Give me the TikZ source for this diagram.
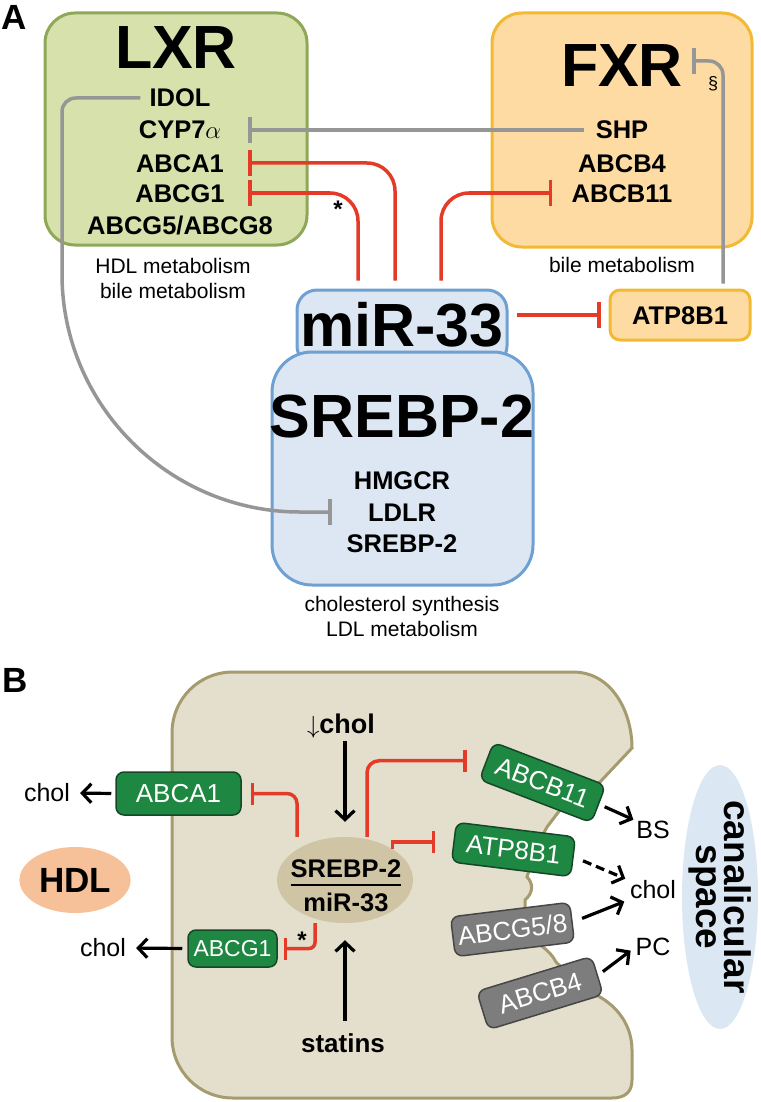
\documentclass[tikz,border=0pt]{standalone}
\usepackage{fontspec}
\setmainfont{Liberation Sans}
\usetikzlibrary{arrows.meta,shapes.geometric}

\definecolor{lxrfill}{RGB}{214,225,172}
\definecolor{lxrline}{RGB}{143,168,87}
\definecolor{fxrfill}{RGB}{253,219,162}
\definecolor{fxrline}{RGB}{242,186,52}
\definecolor{srebpfill}{RGB}{221,231,243}
\definecolor{srebpline}{RGB}{110,160,210}
\definecolor{cellfill}{RGB}{227,223,204}
\definecolor{cellline}{RGB}{165,155,110}
\definecolor{nucfill}{RGB}{207,197,165}
\definecolor{tgreen}{RGB}{30,135,65}
\definecolor{tgreenline}{RGB}{22,72,40}
\definecolor{tgrey}{RGB}{125,125,125}
\definecolor{tgreyline}{RGB}{70,70,70}
\definecolor{hdlfill}{RGB}{246,192,152}
\definecolor{canfill}{RGB}{219,232,243}
\definecolor{inhred}{RGB}{228,58,40}
\definecolor{inhgrey}{RGB}{150,150,150}

\begin{document}
\begin{tikzpicture}[x=1pt, y=-1pt,
    panel/.style={font=\fontsize{35}{36}\selectfont\bfseries, inner sep=0pt},
    title/.style={font=\fontsize{61}{62}\selectfont\bfseries, inner sep=0pt},
    gene/.style={font=\fontsize{25.5}{28}\selectfont\bfseries, inner sep=0pt, text height=18pt, text depth=0pt},
    note/.style={font=\fontsize{21}{25}\selectfont, align=center, inner sep=0pt},
    btext/.style={font=\fontsize{25}{28}\selectfont, inner sep=0pt},
    abox/.style={line width=3pt, rounded corners=30pt},
    tbox/.style={rounded corners=8pt, minimum width=120pt, minimum height=40pt, inner sep=3pt,
                 text=white, font=\fontsize{26}{28}\selectfont, line width=1.5pt},
    greenbox/.style={tbox, fill=tgreen, draw=tgreenline},
    greybox/.style={tbox, fill=tgrey, draw=tgreyline},
    redinh/.style={draw=inhred, line width=3.5pt, -{Bar[width=26pt]}},
    redinhB/.style={draw=inhred, line width=3.5pt, -{Bar[width=22pt]}},
    grayinh/.style={draw=inhgrey, line width=3.5pt, -{Bar[width=26pt]}},
    blk/.style={line width=3.2pt, -{Straight Barb[length=9pt,width=19pt]}}
  ]

      \useasboundingbox (0,0) rectangle (760,1102);

      %Panel A
      \node[panel] (pa) at (14,17) {A};

      %LXR
      \node[abox, draw=lxrline, fill=lxrfill, minimum width=262pt, minimum height=232pt] (lxrbox) at (176,129) {};
      \node[title] (lxr) at (176,48) {LXR};
      \foreach \nm/\txt/\ypos in {idol/IDOL/98, cyp/CYP7$\alpha$/130, abcaA/ABCA1/163, abcgA/ABCG1/193} {
        \node[gene] (\nm) at (180,\ypos) {\txt};
      }
      \node[gene] (abcgeight) at (180,225) {ABCG5/ABCG8};
      \node[note] (lxrnote) at (173,278) {HDL metabolism\\bile metabolism};

      %FXR
      \node[abox, draw=fxrline, fill=fxrfill, minimum width=260pt, minimum height=234pt] (fxrbox) at (622,130) {};
      \node[title] (fxr) at (622,66) {FXR};
      \foreach \nm/\txt/\ypos in {shp/SHP/130, abcbfour/ABCB4/163, abcbeleven/ABCB11/193} {
        \node[gene] (\nm) at (622,\ypos) {\txt};
      }
      \node[note] (fxrnote) at (622,265) {bile metabolism};
      \node[font=\fontsize{18}{20}\selectfont, inner sep=0pt] (para) at (713,84) {\S};

      %ATP8B1
      \node[gene, draw=fxrline, fill=fxrfill, line width=3pt, rounded corners=10pt,
            minimum width=140pt, minimum height=50pt] (atpA) at (680,315) {ATP8B1};

      %miR-33 / SREBP-2
      \node[abox, draw=srebpline, fill=srebpfill, rounded corners=20pt, minimum width=210pt, minimum height=76pt] (mirbox) at (402,328) {};
      \node[abox, draw=srebpline, fill=srebpfill, rounded corners=40pt, minimum width=261pt, minimum height=233pt] (srebpbox) at (402.5,468.5) {};
      \node[title] (mir) at (402,325) {miR-33};
      \node[title] (srebp) at (402,416) {SREBP-2};
      \foreach \nm/\txt/\ypos in {hmgcr/HMGCR/480, ldlr/LDLR/512, srebptwo/SREBP-2/543} {
        \node[gene] (\nm) at (402,\ypos) {\txt};
      }
      \node[note] (srebpnote) at (402,616) {cholesterol synthesis\\LDL metabolism};

      %Inhibitions A
      \coordinate (barL) at (248,0);
      \coordinate (barR) at (552,0);
      \draw[grayinh] ([xshift=-12pt]shp.west) -- (cyp -| barL);
      \draw[grayinh] ([xshift=-9pt]idol.west) -- (76,98) .. controls (68,98) and (62,104) .. (62,112)
            -- (62,274) .. controls (62,405) and (169,512) .. (300,512) -- ([xshift=-36pt]ldlr.west);
      \draw[redinh, rounded corners=28pt, shorten <=8pt] ([xshift=-7pt]mirbox.north) |- (abcaA -| barL);
      \draw[redinh, rounded corners=28pt, shorten <=8pt] ([xshift=-44pt]mirbox.north) |- (abcgA -| barL);
      \draw[redinh, rounded corners=28pt, shorten <=8pt] ([xshift=39pt]mirbox.north) |- (abcbeleven -| barR);
      \node[font=\fontsize{24}{26}\selectfont\bfseries, inner sep=0pt] (starA) at (338,209) {*};
      \draw[redinh, shorten <=8pt, shorten >=8pt] (mirbox.east |- atpA.west) -- (atpA.west);
      \draw[grayinh, rounded corners=14pt, shorten <=5pt] ([xshift=43pt]atpA.north) |- ([xshift=9pt,yshift=5pt]fxr.east);

      %Panel B
      \node[panel] (pb) at (15,680) {B};

      %cell
      \draw[draw=cellline, fill=cellfill, line width=3pt] (233,672) -- (573,672)
            .. controls (612,672) and (632,712) .. (632,748) -- (600,782) -- (560,810) -- (547,827)
            -- (535,850) -- (527,877) .. controls (533,883) and (534,892) .. (525,900) -- (525,935)
            -- (543,947) .. controls (549,952) and (553,956) .. (556,962) -- (580,985) -- (600,997)
            .. controls (622,1010) and (632,1030) .. (632,1050) -- (632,1080)
            .. controls (632,1092) and (625,1098) .. (612,1098) -- (233,1098)
            .. controls (199,1098) and (172,1071) .. (172,1037) -- (172,733)
            .. controls (172,699) and (199,672) .. (233,672) -- cycle;

      %HDL and canalicular space
      \node[ellipse, fill=hdlfill, minimum width=106pt, minimum height=66pt,
            font=\fontsize{35}{36}\selectfont\bfseries] (hdl) at (75,880) {HDL};
      \node[ellipse, fill=canfill, minimum width=76pt, minimum height=264pt] (canal) at (720,897) {};
      \node[rotate=-90, align=center, inner sep=0pt, font=\fontsize{37}{28}\selectfont\bfseries] (canaltxt) at (720,897) {canalicular\\space};

      %SREBP-2 / miR-33
      \node[ellipse, fill=nucfill, minimum width=136pt, minimum height=86pt] (srebpB) at (345,880) {};
      \node[gene] (srebpBt) at (346,868) {SREBP-2};
      \node[gene] (mirBt) at (346,902) {miR-33};
      \draw[line width=1.5pt] ([yshift=-8pt]srebpBt.south west) -- ([yshift=-8pt]srebpBt.south east);
      \node[gene, font=\fontsize{27}{28}\selectfont\bfseries] (dchol) at (341,724) {$\downarrow$chol};
      \node[gene, font=\fontsize{26}{28}\selectfont\bfseries] (statins) at (343,1043) {statins};

      %Transporters
      \node[greenbox, minimum width=125pt, minimum height=43pt] (abcaB) at (178.5,793.5) {ABCA1};
      \node[greenbox, minimum width=89pt, minimum height=37pt, font=\fontsize{23}{25}\selectfont] (abcgB) at (232.5,948.5) {ABCG1};
      \node[greenbox, rotate=-21] (abcbB) at (542.5,782.5) {ABCB11};
      \node[greenbox, rotate=-7] (atpB) at (513.5,849.5) {ATP8B1};
      \node[greybox, rotate=7] (abcgfiveB) at (512.5,929.5) {ABCG5/8};
      \node[greybox, rotate=17] (abcbfourB) at (540,993) {ABCB4};

      %Products
      \node[btext] (cholL) at (47,793) {chol};
      \node[btext] (cholLL) at (103,948) {chol};
      \node[btext] (bs) at (653,830) {BS};
      \node[btext] (cholR) at (653,890) {chol};
      \node[btext] (pc) at (653,947) {PC};

      %Arrows B
      \draw[blk, shorten <=8pt, shorten >=15pt] (srebpB.north |- dchol.south) -- (srebpB.north);
      \draw[blk, shorten <=13pt, shorten >=17pt] (srebpB.south |- statins.north) -- (srebpB.south);
      \draw[blk, shorten <=4pt, shorten >=10pt] (abcaB.west) -- (cholL.east);
      \draw[blk, shorten <=5pt, shorten >=10pt] (abcgB.west) -- (cholLL.east);
      \draw[blk, shorten <=6pt, shorten >=3pt] (abcbB.east) -- (bs.north west);
      \draw[blk, dash pattern=on 9pt off 5pt, shorten <=10pt, shorten >=5pt] (atpB.east) -- (cholR.north west);
      \draw[blk, shorten <=10pt, shorten >=6pt] (abcgfiveB.east) -- (cholR.south west);
      \draw[blk, shorten <=6pt, shorten >=6pt] (abcbfourB.east) -- (pc.west);

      %Inhibitions B
      \draw[redinhB, rounded corners=10pt, shorten >=9pt] ([xshift=-48pt]srebpB.north) |- (abcaB.east);
      \draw[redinhB, rounded corners=12pt, shorten >=19pt] ([xshift=22pt]srebpB.north) |- (abcbB.west);
      \draw[redinhB, shorten >=18pt] (srebpB.33) |- (atpB.west);
      \draw[redinhB, rounded corners=6pt, shorten >=6pt] ([xshift=-30pt]srebpB.south) |- (abcgB.east);
      \node[font=\fontsize{24}{26}\selectfont\bfseries, inner sep=0pt] (starB) at (302,940) {*};

\end{tikzpicture}
\end{document}
